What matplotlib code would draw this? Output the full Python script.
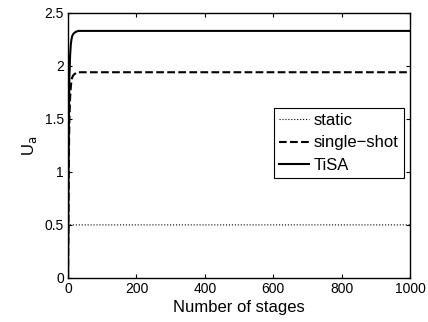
import matplotlib
matplotlib.use("Agg")
import matplotlib.pyplot as plt

plt.rcParams['font.family'] = ['Liberation Sans', 'DejaVu Sans']

# stages (sparse sample points along the curves)
stages = [0, 1, 2, 3, 4, 6, 8, 10, 12, 15, 18, 22, 26, 30, 35, 40, 1000]
static_vals = [0.0, 0.30, 0.40, 0.45, 0.48, 0.50, 0.50, 0.50, 0.50, 0.50, 0.50, 0.50, 0.50, 0.50, 0.50, 0.50, 0.50]
single_vals = [0.0, 0.60, 1.00, 1.30, 1.50, 1.70, 1.80, 1.86, 1.89, 1.91, 1.92, 1.93, 1.94, 1.94, 1.94, 1.94, 1.94]
tisa_vals = [0.0, 0.80, 1.30, 1.65, 1.90, 2.10, 2.20, 2.25, 2.28, 2.30, 2.31, 2.32, 2.325, 2.33, 2.33, 2.33, 2.33]

xticks = [0, 200, 400, 600, 800, 1000]
yticks = [0, 0.5, 1, 1.5, 2, 2.5]

fig = plt.figure(figsize=(4.28, 3.22), dpi=100)
ax = fig.add_axes([0.159, 0.137, 0.799, 0.823])

ax.plot(stages, static_vals, linestyle=':', color='black', linewidth=0.8, label='static')
ax.plot(stages, single_vals, linestyle='--', color='black', linewidth=1.5, label='single\u2212shot')
ax.plot(stages, tisa_vals, linestyle='-', color='black', linewidth=1.5, label='TiSA')

ax.set_xlim(0, 1000)
ax.set_ylim(0, 2.5)
ax.set_xticks(xticks)
ax.set_xticklabels([str(v) for v in xticks])
ax.set_yticks(yticks)
ax.set_yticklabels(['0', '0.5', '1', '1.5', '2', '2.5'])
ax.tick_params(direction='in', top=True, right=True, labelsize=10, length=3, width=0.8, pad=3)
for s in ax.spines.values():
    s.set_linewidth(1.0)

ax.set_xlabel('Number of stages', fontsize=12, labelpad=3)
ax.set_ylabel('U$_\\mathrm{a}$', fontsize=12, labelpad=4)

leg = ax.legend(loc='upper right', bbox_to_anchor=(0.982, 0.6415), fontsize=12,
                frameon=True, fancybox=False, edgecolor='black', framealpha=1,
                handlelength=1.8, handletextpad=0.3, borderpad=0.3, labelspacing=0.45,
                borderaxespad=0)
leg.get_frame().set_linewidth(0.8)

fig.savefig('out.png', dpi=100)
